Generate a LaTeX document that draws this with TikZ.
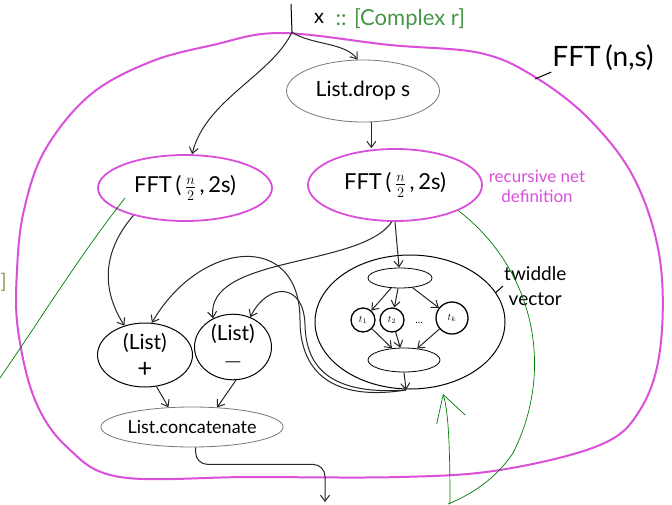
\documentclass[tikz,border=0pt]{standalone}
\usepackage{xcolor}
\usepackage{amsmath}
\usepackage{fontspec}
\setmainfont{Lato}
\usepackage{tikz}
\usetikzlibrary{shapes,arrows,arrows.meta}

\definecolor{netpink}{RGB}{218,80,218}
\definecolor{notegreen}{RGB}{0,125,0}
\definecolor{typegreen}{RGB}{70,150,70}
\definecolor{boxgray}{RGB}{120,120,120}
\definecolor{cutolive}{RGB}{150,150,90}

\begin{document}
\begin{tikzpicture}[x=1pt, y=-1pt, >={Straight Barb[length=6pt,width=9pt]},
    blob/.style={ellipse, draw, line width=1pt, inner sep=0pt, align=center, font=\fontsize{21}{24}\selectfont},
    grayblob/.style={blob, draw=boxgray, line width=0.8pt},
    rec/.style={ellipse, draw=netpink, line width=1.8pt, inner sep=0pt, minimum width=174pt, font=\fontsize{22}{24}\selectfont},
    twf/.style={circle, draw, line width=1.3pt, inner sep=0pt, font=\fontsize{10}{12}\selectfont},
    wire/.style={->, line width=1pt, black!85},
    note/.style={notegreen, line width=0.7pt}]
    \fill [white] (0,0) rectangle (672,504);
    \useasboundingbox (0,0) rectangle (672,504);

    % the whole FFT(n,s) net
    \draw [netpink, line width=2pt] plot [smooth cycle, tension=0.6] coordinates {
        (280,33) (390,45) (480,53) (535,77) (590,120) (635,180) (660,260) (660,350)
        (640,410) (600,445) (500,470) (400,477) (250,477) (120,477) (67,447) (35,400)
        (18,330) (17,270) (24,210) (45,150) (90,95) (150,62) (213,45)};
    \coordinate (blobTick) at (535,79);
    \node [inner sep=1pt, font=\fontsize{28}{30}\selectfont] (fftNS) at (603,58) {FFT\,(n,s)};
    \draw [line width=1pt] (blobTick) -- (fftNS.south west);

    % input
    \coordinate (inTop) at (291,4);
    \coordinate (inSplit) at (292,32);
    \node [font=\fontsize{20}{22}\selectfont] (xIn) at (319,18) {x};
    \node [typegreen, anchor=west, font=\fontsize{22}{24}\selectfont] (xType) at (332,19) {:: [Complex r]};
    \node [cutolive, anchor=west, font=\fontsize{20}{22}\selectfont] (cutBr) at (-3,282) {]};

    \node [grayblob, minimum width=153pt, minimum height=62pt] (dropS) at (363,91) {List.drop s};
    \node [rec, minimum height=66pt] (fftL) at (185,188) {FFT\,(\,$\frac{n}{2}$\,,\,2s)};
    \node [rec, minimum height=72pt] (fftR) at (395,185) {FFT\,(\,$\frac{n}{2}$\,,\,2s)};
    \node [netpink, align=center, font=\fontsize{17}{20}\selectfont] (recNote) at (537,186) {recursive net\\definition};

    % twiddle vector
    \node [ellipse, draw, line width=1pt, minimum width=190pt, minimum height=134pt] (twid) at (410,322) {};
    \node [align=center, anchor=west, inner sep=1pt, font=\fontsize{19}{25}\selectfont] (twLbl) at (503,286) {twiddle\\vector};
    \draw [line width=1pt] (twid.19) -- (twLbl.west);
    \node [ellipse, draw, line width=0.8pt, minimum width=64pt, minimum height=20pt] (twIn) at (400,278) {};
    \node [ellipse, draw, line width=0.8pt, minimum width=72pt, minimum height=24pt] (twOut) at (404,360) {};
    \node [twf, minimum size=24pt] (t1) at (363,320) {$t_1$};
    \node [twf, minimum size=24pt] (t2) at (392,320) {$t_2$};
    \node (tDots) at (419,323) {\dots};
    \node [twf, minimum size=32pt] (tk) at (452,318) {$t_k$};
    \coordinate (twBot) at (406,390);

    % butterflies
    \node [blob, minimum width=95pt, minimum height=64pt] (plusN) at (145,355) {(List)\\[4pt]{\fontsize{26}{26}\selectfont +}};
    \node [blob, minimum width=77pt, minimum height=63pt] (minusN) at (233,347) {(List)\\[4pt]{\fontsize{26}{26}\selectfont $-$}};
    \node [grayblob, minimum width=178pt, minimum height=40pt, font=\fontsize{18}{20}\selectfont] (concatN) at (192,427) {List.concatenate};
    \coordinate (outEnd) at (325,502);

    \draw [line width=1pt] (inTop) -- (inSplit);
    \draw [wire] (inSplit) .. controls (272,75) and (205,100) .. (fftL.78);
    \draw [wire] (inSplit) .. controls (310,45) and (345,42) .. (dropS.100);
    \draw [wire] (dropS.-75) -- (dropS.-75 |- fftR.north);
    \draw [wire] (fftR.south) -- (twIn);
    \draw [wire] (twIn) -- (t1);
    \draw [wire] (twIn) -- (t2);
    \draw [wire] (twIn) -- (tk);
    \draw [wire] (t1) -- (twOut);
    \draw [wire] (t2) -- (twOut);
    \draw [wire] (tk) -- (twOut);
    \draw [wire] (twOut.south) -- (twBot);
    \draw [wire] (fftL.-152) .. controls (95,260) and (108,300) .. (plusN.125);
    \draw [wire] (fftR.-95) .. controls (360,268) and (205,255) .. (minusN.125);
    \draw [wire] (twBot) .. controls (330,402) and (300,370) .. (300,320)
        .. controls (300,230) and (200,240) .. (plusN.78);
    \draw [wire] (twBot) .. controls (322,396) and (306,360) .. (305,325)
        .. controls (304,282) and (268,282) .. (minusN.60);
    \draw [wire] (plusN.-70) -- (concatN.140);
    \draw [wire] (minusN.-85) -- (concatN.38);
    \draw [wire, rounded corners=12pt] (concatN.-80) -- ++(0,17) -| (outEnd);

    % green notes
    \coordinate (gL0) at (125,198);
    \coordinate (gL1) at (0,378);
    \coordinate (gR1) at (448,504);
    \coordinate (gA0) at (450,504);
    \coordinate (gA1) at (443,394);
    \draw [note] (gL0) .. controls (80,255) and (40,320) .. (gL1);
    \draw [note] (fftR.-22) .. controls (535,270) and (555,370) .. (513,453)
        .. controls (495,480) and (470,495) .. (gR1);
    \draw [note, -{Straight Barb[length=26pt,width=30pt]}] (gA0) .. controls (450,440) and (448,410) .. (gA1);
\end{tikzpicture}
\end{document}
